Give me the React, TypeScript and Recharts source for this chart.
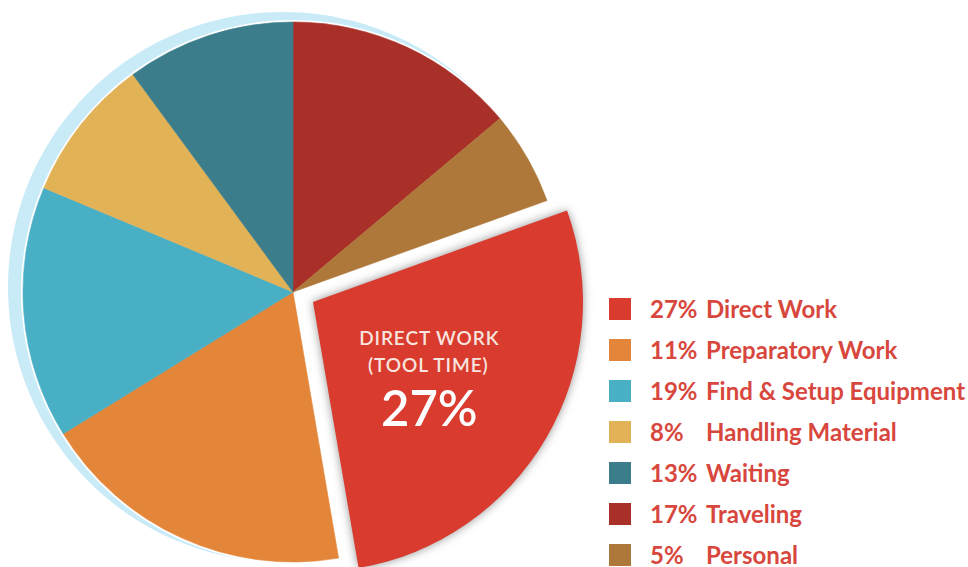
import React from 'react';
import { PieChart, Pie, Cell, Legend } from 'recharts';

// Slices in drawing order, clockwise from 12 o'clock
const sliceNames = ['Traveling', 'Personal', 'Direct Work', 'Preparatory Work', 'Find & Setup Equipment', 'Handling Material', 'Waiting'];
const sliceValues = [13.9, 5.6, 27.8, 18.9, 15.1, 8.6, 10.1];
const sliceColors = ['#a92f29', '#ae783b', '#d93c2f', '#e4863a', '#48afc5', '#e2b257', '#3c7d8b'];
const explodedIndex = 2;

// Legend
const legendPercents = ['27%', '11%', '19%', '8%', '13%', '17%', '5%'];
const legendNames = ['Direct Work', 'Preparatory Work', 'Find & Setup Equipment', 'Handling Material', 'Waiting', 'Traveling', 'Personal'];
const legendColors = ['#d93c2f', '#e4863a', '#48afc5', '#e2b257', '#3c7d8b', '#a92f29', '#ae783b'];

// Callout inside exploded slice
const calloutLines = ['DIRECT WORK', '(TOOL TIME)'];
const calloutValue = '27%';

const sliceData = sliceNames.map((name, i) => ({ name, value: sliceValues[i] }));
const backdropData = [{ name: 'backdrop', value: 1 }];

const FONT = 'Lato, "Open Sans", sans-serif';
const RADIAN = Math.PI / 180;

const renderCallout = (props: any) => {
  const { cx, cy, midAngle, outerRadius, index } = props;
  if (index !== explodedIndex) return null;
  const r = outerRadius * 0.49;
  const x = cx + r * Math.cos(-midAngle * RADIAN);
  const y = cy + r * Math.sin(-midAngle * RADIAN);
  return (
    <g>
      <text x={x + 2} y={y - 24} textAnchor="middle" fill="#f8e4df" fontFamily={FONT} fontSize={19} fontWeight={600} letterSpacing={0.9}>
        {calloutLines[0]}
      </text>
      <text x={x + 1} y={y + 3} textAnchor="middle" fill="#f8e4df" fontFamily={FONT} fontSize={19} fontWeight={600} letterSpacing={0.9}>
        {calloutLines[1]}
      </text>
      <text x={x + 2} y={y + 57} textAnchor="middle" fill="#ffffff" fontFamily={FONT} fontSize={49} fontWeight={600}>
        {calloutValue}
      </text>
    </g>
  );
};

const renderLegend = () => (
  <div style={{ fontFamily: FONT }}>
    {legendNames.map((name, i) => (
      <div key={name} style={{ display: 'flex', alignItems: 'center', height: 41 }}>
        <div style={{ width: 22, height: 22, background: legendColors[i], marginRight: 19 }} />
        <div style={{ width: 56, color: '#d8473d', fontSize: 24, fontWeight: 700, lineHeight: '40px' }}>{legendPercents[i]}</div>
        <div style={{ color: '#d8473d', fontSize: 24, fontWeight: 700, lineHeight: '40px', whiteSpace: 'nowrap' }}>{name}</div>
      </div>
    ))}
  </div>
);

export default function App() {
  return (
    <div style={{ position: 'absolute', left: 0, top: 0, width: 968, height: 567, background: '#ffffff' }}>
      <PieChart width={968} height={567} margin={{ top: 0, right: 0, bottom: 0, left: 0 }}>
        {/* light blue backdrop disc */}
        <Pie
          data={backdropData}
          dataKey="value"
          cx={283}
          cy={287}
          outerRadius={275}
          startAngle={90}
          endAngle={-270}
          stroke="none"
          fill="#c9eaf7"
          isAnimationActive={false}
        />
        {/* white halo */}
        <Pie
          data={backdropData}
          dataKey="value"
          cx={293}
          cy={292}
          outerRadius={272}
          startAngle={90}
          endAngle={-270}
          stroke="none"
          fill="#ffffff"
          isAnimationActive={false}
        />
        {/* main pie */}
        <Pie
          data={sliceData}
          dataKey="value"
          nameKey="name"
          cx={293}
          cy={292}
          outerRadius={270}
          startAngle={90}
          endAngle={-270}
          isAnimationActive={false}
        >
          {sliceData.map((d, i) => (
            <Cell
              key={d.name}
              fill={i === explodedIndex ? 'none' : sliceColors[i]}
              stroke={i === explodedIndex ? 'none' : sliceColors[i]}
              strokeWidth={0.6}
            />
          ))}
        </Pie>
        {/* exploded slice */}
        <Pie
          data={sliceData}
          dataKey="value"
          nameKey="name"
          cx={313}
          cy={302}
          outerRadius={270}
          startAngle={90}
          endAngle={-270}
          isAnimationActive={false}
          label={renderCallout}
          labelLine={false}
        >
          {sliceData.map((d, i) => (
            <Cell
              key={d.name}
              fill={i === explodedIndex ? sliceColors[i] : 'none'}
              stroke="none"
              style={i === explodedIndex ? { filter: 'drop-shadow(0px 0px 5px rgba(60,60,60,0.55))' } : undefined}
            />
          ))}
        </Pie>
        <Legend
          content={renderLegend}
          wrapperStyle={{ position: 'absolute', left: 609, top: 288, width: 359, height: 290 }}
        />
      </PieChart>
    </div>
  );
}
